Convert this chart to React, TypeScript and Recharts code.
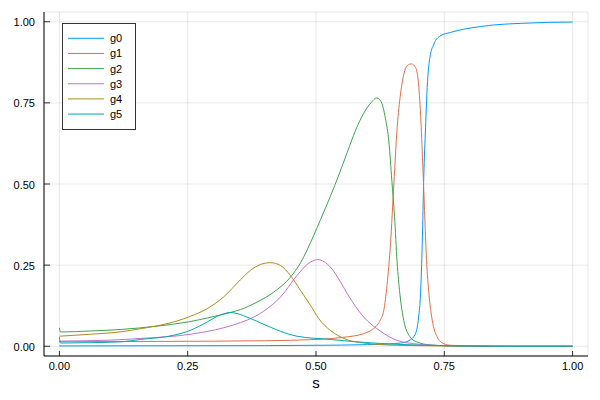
import { LineChart, Line, XAxis, YAxis, CartesianGrid, Legend } from 'recharts';

const FONT = '"Liberation Sans", Arial, sans-serif';

const seriesNames = ['g0', 'g1', 'g2', 'g3', 'g4', 'g5'];
const seriesColors = ['#009AFA', '#E36F47', '#3EA44E', '#C371D2', '#AC8E18', '#00AAAE'];

const xTicks = [0, 0.25, 0.5, 0.75, 1];
const yTicks = [0, 0.25, 0.5, 0.75, 1];

// values, s positions per curve
const g0S = [0, 0.2, 0.4, 0.5, 0.6, 0.64, 0.665, 0.684, 0.694, 0.7, 0.7037, 0.707, 0.71, 0.7135, 0.7167, 0.7219, 0.7297, 0.7427, 0.762, 0.788, 0.82, 0.853, 0.9, 0.95, 1.0];
const g0V = [0.001, 0.0015, 0.002, 0.003, 0.005, 0.007, 0.01, 0.02, 0.04, 0.09, 0.162, 0.316, 0.521, 0.675, 0.798, 0.89, 0.931, 0.957, 0.967, 0.977, 0.985, 0.991, 0.995, 0.998, 0.999];

const g1S = [0, 0.2, 0.4, 0.5, 0.55, 0.593, 0.61, 0.619, 0.6257, 0.632, 0.6385, 0.6452, 0.6517, 0.6582, 0.6647, 0.6712, 0.6777, 0.6862, 0.694, 0.7004, 0.705, 0.709, 0.7115, 0.7154, 0.72, 0.7265, 0.736, 0.749, 0.762, 0.8, 0.9, 1.0];
const g1V = [0.014, 0.015, 0.017, 0.021, 0.027, 0.039, 0.052, 0.065, 0.082, 0.11, 0.19, 0.316, 0.5, 0.675, 0.777, 0.839, 0.865, 0.87, 0.859, 0.798, 0.675, 0.521, 0.418, 0.265, 0.162, 0.08, 0.029, 0.008, 0.003, 0.001, 0, 0];

const g2S = [0, 0.002, 0.06, 0.122, 0.19, 0.251, 0.288, 0.333, 0.3528, 0.385, 0.4178, 0.4503, 0.4698, 0.4828, 0.4957, 0.5088, 0.528, 0.545, 0.561, 0.577, 0.593, 0.608, 0.618, 0.6257, 0.6355, 0.642, 0.6478, 0.653, 0.658, 0.6634, 0.671, 0.681, 0.697, 0.723, 0.76, 0.85, 1.0];
const g2V = [0.057, 0.044, 0.047, 0.052, 0.062, 0.075, 0.087, 0.104, 0.113, 0.136, 0.167, 0.213, 0.257, 0.297, 0.342, 0.39, 0.462, 0.53, 0.598, 0.665, 0.718, 0.752, 0.765, 0.757, 0.7, 0.63, 0.51, 0.4, 0.26, 0.162, 0.08, 0.034, 0.013, 0.004, 0.001, 0, 0];

const g3S = [0, 0.1, 0.158, 0.255, 0.32, 0.353, 0.379, 0.398, 0.431, 0.463, 0.485, 0.5035, 0.528, 0.5478, 0.561, 0.593, 0.626, 0.658, 0.69, 0.75, 0.85, 1.0];
const g3V = [0.016, 0.019, 0.024, 0.037, 0.057, 0.073, 0.09, 0.108, 0.152, 0.218, 0.255, 0.267, 0.244, 0.198, 0.162, 0.09, 0.046, 0.018, 0.008, 0.002, 0, 0];

const g4S = [0, 0.06, 0.122, 0.158, 0.223, 0.255, 0.288, 0.32, 0.3528, 0.3723, 0.3918, 0.4113, 0.4308, 0.4503, 0.4698, 0.4893, 0.5055, 0.528, 0.561, 0.593, 0.658, 0.75, 0.85, 1.0];
const g4V = [0.031, 0.037, 0.045, 0.054, 0.075, 0.092, 0.116, 0.152, 0.205, 0.234, 0.252, 0.2575, 0.249, 0.218, 0.172, 0.126, 0.085, 0.049, 0.02, 0.01, 0.003, 0.001, 0, 0];

const g5S = [0, 0.002, 0.06, 0.122, 0.158, 0.223, 0.255, 0.288, 0.307, 0.32, 0.333, 0.346, 0.359, 0.392, 0.431, 0.463, 0.528, 0.593, 0.658, 0.75, 0.85, 1.0];
const g5V = [0.028, 0.01, 0.011, 0.014, 0.021, 0.034, 0.049, 0.075, 0.092, 0.1, 0.104, 0.101, 0.094, 0.072, 0.046, 0.031, 0.021, 0.012, 0.006, 0.002, 0, 0];

const toPoints = (s: number[], v: number[]) => s.map((x, i) => ({ s: x, v: v[i] }));

const series = [
  toPoints(g0S, g0V),
  toPoints(g1S, g1V),
  toPoints(g2S, g2V),
  toPoints(g3S, g3V),
  toPoints(g4S, g4V),
  toPoints(g5S, g5V),
];

function YTick({ x, y, payload }: any) {
  return (
    <g>
      <line x1={x} x2={x + 6} y1={y} y2={y} stroke="#000" strokeWidth={0.8} />
      <text x={x - 9} y={y} dy={4.5} textAnchor="end" fontSize={11} fontFamily={FONT} fill="#000">
        {payload.value.toFixed(2)}
      </text>
    </g>
  );
}

function XTick({ x, y, payload }: any) {
  return (
    <g>
      <line x1={x} x2={x} y1={y} y2={y - 5} stroke="#000" strokeWidth={0.8} />
      <text x={x} y={y + 14} textAnchor="middle" fontSize={11} fontFamily={FONT} fill="#000">
        {payload.value.toFixed(2)}
      </text>
    </g>
  );
}

function LegendBox() {
  return (
    <svg width={74} height={107} style={{ display: 'block' }}>
      <rect x={0.5} y={0.5} width={73} height={106} fill="#fff" stroke="#333" strokeWidth={1} />
      {seriesNames.map((name, i) => {
        const cy = 15.3 + i * 15.15;
        return (
          <g key={name}>
            <line x1={6} x2={42} y1={cy} y2={cy} stroke={seriesColors[i]} strokeWidth={1} />
            <text x={48} y={cy + 4} fontSize={11} fontFamily={FONT} fill="#000">
              {name}
            </text>
          </g>
        );
      })}
    </svg>
  );
}

export default function App() {
  return (
    <div style={{ position: 'absolute', left: 0, top: 0, width: 600, height: 400, background: '#fff' }}>
      <LineChart width={600} height={400} margin={{ top: 12, right: 12, left: 0, bottom: 0 }}>
        <CartesianGrid stroke="#000" strokeOpacity={0.09} strokeWidth={1} />
        <XAxis
          type="number"
          dataKey="s"
          domain={[-0.03, 1.03]}
          allowDataOverflow
          ticks={xTicks}
          height={44}
          tickSize={0}
          tickMargin={0}
          tickLine={false}
          axisLine={{ stroke: '#000', strokeWidth: 1 }}
          tick={XTick}
          label={{ value: 's', position: 'insideBottom', offset: 12, fontSize: 15, fontFamily: FONT, fill: '#000' }}
        />
        <YAxis
          type="number"
          domain={[-0.03, 1.03]}
          allowDataOverflow
          ticks={yTicks}
          width={44}
          tickSize={0}
          tickMargin={0}
          tickLine={false}
          axisLine={{ stroke: '#000', strokeWidth: 1 }}
          tick={YTick}
        />
        <Legend
          layout="vertical"
          align="center"
          verticalAlign="middle"
          content={LegendBox}
          wrapperStyle={{ top: 23, left: 62, width: 74, height: 107 }}
        />
        {series.map((points, i) => (
          <Line
            key={seriesNames[i]}
            name={seriesNames[i]}
            data={points}
            dataKey="v"
            type="monotone"
            stroke={seriesColors[i]}
            strokeWidth={1}
            dot={false}
            activeDot={false}
            isAnimationActive={false}
          />
        ))}
      </LineChart>
    </div>
  );
}
